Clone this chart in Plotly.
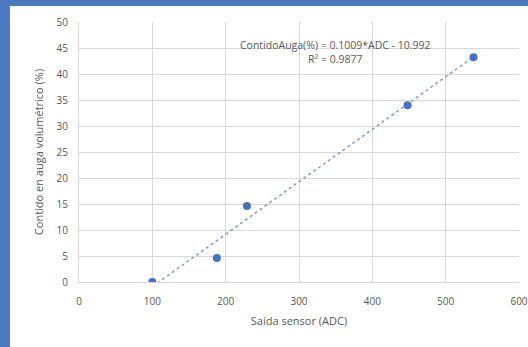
import plotly.graph_objects as go

# Sensor calibration: ADC output vs volumetric water content
adc = [100, 188, 229, 448, 538]
contido = [0, 4.6, 14.6, 34.0, 43.2]

# Linear trendline reported on the chart
slope = 0.1009
intercept = -10.992
r2 = 0.9877
trend_x = [min(adc), max(adc)]
trend_y = [slope * x + intercept for x in trend_x]

BLUE = "#4472c4"
TEXT = "#595959"
GRID = "#d9d9d9"
FONT = "Open Sans, Liberation Sans, sans-serif"

fig = go.Figure()
fig.add_trace(go.Scatter(
    x=trend_x, y=trend_y, mode="lines",
    line=dict(color="#7f9cc9", width=1.5, dash="dot"),
    hoverinfo="skip", showlegend=False,
))
fig.add_trace(go.Scatter(
    x=adc, y=contido, mode="markers",
    marker=dict(color=BLUE, size=8),
    showlegend=False,
))

fig.add_annotation(
    x=350, y=44.2, xref="x", yref="y", showarrow=False,
    text=f"ContidoAuga(%) = {slope}*ADC - {abs(intercept)}<br>R² = {r2}",
    font=dict(family=FONT, size=10.5, color=TEXT), align="center",
)

# white card on a blue frame
fig.add_shape(
    type="rect", xref="paper", yref="paper", layer="below",
    x0=-0.157, x1=1.1, y0=-0.35, y1=1.062,
    fillcolor="white", line=dict(width=0),
)

axis_common = dict(
    showgrid=True, gridcolor=GRID, gridwidth=1,
    showline=True, linecolor=GRID, linewidth=1,
    zeroline=False, ticks="", automargin=False,
    tickfont=dict(family=FONT, size=10, color=TEXT),
)
fig.update_xaxes(
    range=[0, 600], dtick=100, ticklabelstandoff=10,
    title=dict(text="Saída sensor (ADC)", font=dict(family=FONT, size=11, color=TEXT), standoff=10),
    **axis_common,
)
fig.update_yaxes(
    range=[0, 50], dtick=5, ticklabelstandoff=8,
    title=dict(text="Contido en auga volumétrico (%)", font=dict(family=FONT, size=11, color=TEXT), standoff=10),
    **axis_common,
)

fig.update_layout(
    width=528, height=347,
    paper_bgcolor="#4a78be", plot_bgcolor="white",
    margin=dict(l=79, r=9, t=22, b=65),
    font=dict(family=FONT, color=TEXT),
)

fig.write_html(
    "out.html",
    config={"displayModeBar": False},
    post_script="document.body.style.margin='0';",
)
